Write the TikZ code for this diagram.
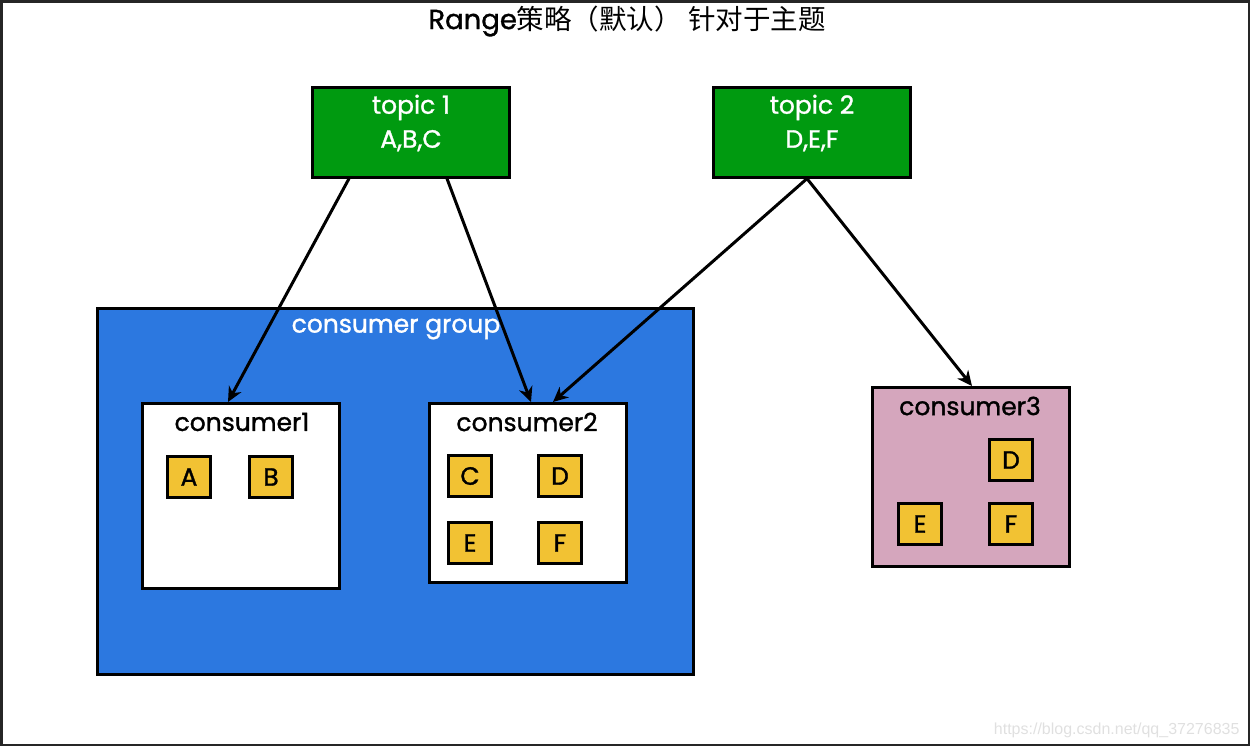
\documentclass[tikz,border=0pt]{standalone}
\usepackage{fontspec}
\setmainfont{Poppins}
\newfontfamily\medfont[FakeBold=1.2]{Poppins}
\newfontfamily\cjk{Noto Sans CJK SC}
\newfontfamily\wm{Liberation Sans}
\usetikzlibrary{arrows.meta,positioning}
\definecolor{topicgreen}{HTML}{009A10}
\definecolor{groupblue}{HTML}{2C78E0}
\definecolor{cpink}{HTML}{D5A6BD}
\definecolor{pyellow}{HTML}{F2C233}
\begin{document}
\begin{tikzpicture}[x=1pt,y=-1pt,
  box/.style={draw=black,line width=2.6pt,inner sep=0pt,anchor=north west},
  topicbox/.style={box,fill=topicgreen,minimum width=197pt,minimum height=90pt},
  consbox/.style={box,fill=white,minimum width=197pt},
  part/.style={draw=black,line width=2.2pt,fill=pyellow,minimum width=43pt,minimum height=41pt,inner sep=0pt,font=\medfont\fontsize{25}{25}\selectfont},
  lbl/.style={font=\medfont\fontsize{25}{25}\selectfont},
  arr/.style={line width=3pt,-{Stealth[length=15pt,width=14pt]}}]
\useasboundingbox (0,0) rectangle (1252,748);
\draw[line width=2.5pt,draw=black!85] (1.5,1.5) rectangle (1249,745);
\node[font=\medfont\fontsize{27.5}{27.5}\selectfont] (title) at (627,21) {Range{\cjk 策略（默认） 针对于主题}};
% topics
\node[topicbox] (t1) at (311,86) {};
\node[text=white,align=center,font=\medfont\fontsize{25}{34}\selectfont] (t1l) at (411,123) {topic 1\\A,B,C};
\node[topicbox] (t2) at (712,86) {};
\node[text=white,align=center,font=\medfont\fontsize{25}{34}\selectfont] (t2l) at (812,123) {topic 2\\D,E,F};
% group
\node[box,fill=groupblue,minimum width=596pt,minimum height=366pt] (grp) at (96,307) {};
\node[lbl,text=white] (grpl) at (396,329) {consumer group};
% consumer1
\node[consbox,minimum height=185pt] (c1) at (141,402) {};
\node[lbl] (c1l) at (242,422) {consumer1};
\node[part] (a1) at (189,477) {A};
\node[part] (b1) at (271,477) {B};
% consumer2
\node[consbox,minimum height=179pt] (c2) at (428,402) {};
\node[lbl] (c2l) at (527,422) {consumer2};
\node[part] (c2c) at (470,476) {C};
\node[part] (c2d) at (560,476) {D};
\node[part] (c2e) at (470,543) {E};
\node[part] (c2f) at (560,543) {F};
% consumer3
\node[box,fill=cpink,minimum width=197pt,minimum height=179pt] (c3) at (871,386) {};
\node[lbl] (c3l) at (970,406) {consumer3};
\node[part] (c3d) at (1011,460) {D};
\node[part] (c3e) at (920,524) {E};
\node[part] (c3f) at (1011,524) {F};
% arrows
\draw[arr] ([xshift=38pt]t1.south west) -- ([xshift=87pt]c1.north west);
\draw[arr] ([xshift=136pt]t1.south west) -- ([xshift=103pt]c2.north west);
\draw[arr] ([xshift=95pt]t2.south west) -- ([xshift=125pt]c2.north west);
\draw[arr] ([xshift=95pt]t2.south west) -- ([xshift=101pt]c3.north west);
\node[font=\wm\fontsize{16}{16}\selectfont,text=black!12,anchor=east] (wmk) at (1243,730) {https://blog.csdn.net/qq\_37276835};
\end{tikzpicture}
\end{document}
